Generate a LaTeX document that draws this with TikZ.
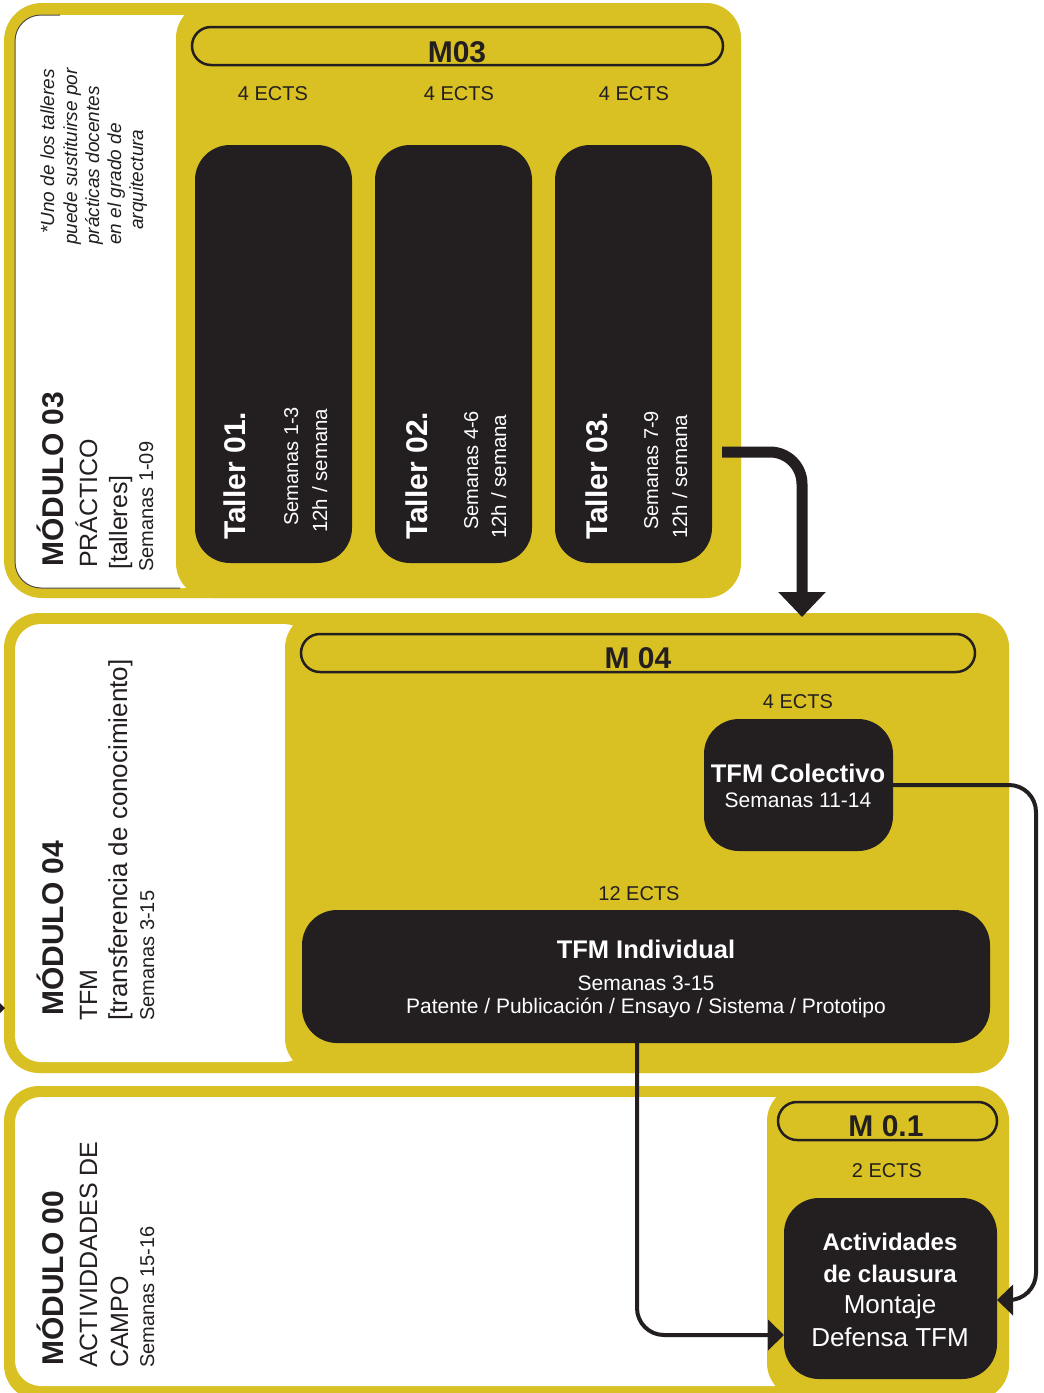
\documentclass[tikz,border=0pt]{standalone}
\usepackage{fontspec}
\setmainfont{Liberation Sans}
\usetikzlibrary{arrows.meta,calc}
\definecolor{ylw}{HTML}{DAC123}
\definecolor{drk}{HTML}{231F20}
\newcommand{\myfs}[1]{\fontsize{#1}{#1}\selectfont}
\begin{document}
\begin{tikzpicture}[x=1pt,y=-1pt,
  pill/.style={draw=drk,line width=2.5pt,rounded corners=19pt,inner sep=0pt},
  dbox/.style={fill=drk,rounded corners=35pt,inner sep=0pt,outer sep=0pt},
  tx/.style={inner sep=0pt,text=drk,anchor=base},
  wt/.style={inner sep=0pt,text=white,anchor=base},
  rl/.style={inner sep=0pt,text=drk,rotate=90,anchor=base west},
  rw/.style={inner sep=0pt,text=white,rotate=90,anchor=base west},
  bigarrow/.style={draw=drk,line width=11pt,rounded corners=32pt,-{Triangle[width=46pt,length=25pt]}},
  smallarrow/.style={draw=drk,line width=4pt,rounded corners=27pt,-{Triangle[width=30pt,length=16pt]}}
]
\useasboundingbox (0,0) rectangle (1044,1393);
\clip (0,0) rectangle (1044,1393);

% ---------- Module 03 background
\fill[ylw,rounded corners=38pt] (4,3) rectangle (741,598);
\fill[white,rounded corners=26pt] (15,15) rectangle (210,588);
\draw[drk!80,line width=1pt,rounded corners=26pt] (60,15) -- (15,15) -- (15,588) -- (180,588);
\fill[ylw,rounded corners=35pt] (176,3) rectangle (741,598);

% ---------- Module 04 background
\fill[ylw,rounded corners=35pt] (4,613) rectangle (1009,1073);
\fill[white,rounded corners=26pt] (15,624) rectangle (310,1062);
\fill[ylw,rounded corners=35pt] (285,613) rectangle (1009,1073);

% ---------- Module 00 background
\fill[ylw,rounded corners=35pt] (4,1086) rectangle (1009,1400);
\fill[white,rounded corners=26pt] (15,1097) rectangle (800,1386);
\fill[ylw,rounded corners=35pt] (767,1086) rectangle (1009,1398);

% small arrow tip at left edge
\fill[drk] (0,1003) -- (5,1008) -- (0,1013) -- cycle;

% ---------- pills
\node[pill,minimum width=531pt,minimum height=38pt] (p3) at (457.5,46) {};
\node[pill,minimum width=674pt,minimum height=38pt] (p4) at (638,653) {};
\node[pill,minimum width=219pt,minimum height=38pt] (p0) at (887.5,1121) {};
\node[tx,font=\bfseries\myfs{30}] (p3t) at (457,62) {M03};
\node[tx,font=\bfseries\myfs{30}] (p4t) at (638,668) {M 04};
\node[tx,font=\bfseries\myfs{30}] (p0t) at (886,1136) {M 0.1};

% ---------- ECTS labels
\node[tx,font=\myfs{20}] (e1) at (273,100) {4 ECTS};
\node[tx,font=\myfs{20}] (e2) at (459,100) {4 ECTS};
\node[tx,font=\myfs{20}] (e3) at (634,100) {4 ECTS};
\node[tx,font=\myfs{20}] (e4) at (798,708) {4 ECTS};
\node[tx,font=\myfs{20}] (e5) at (639,900) {12 ECTS};
\node[tx,font=\myfs{20}] (e6) at (887,1177) {2 ECTS};

% ---------- dark boxes
\node[dbox,minimum width=157pt,minimum height=418pt] (t1) at (273.5,354) {};
\node[dbox,minimum width=157pt,minimum height=418pt] (t2) at (453.5,354) {};
\node[dbox,minimum width=157pt,minimum height=418pt] (t3) at (633.5,354) {};
\node[dbox,minimum width=189pt,minimum height=132pt] (col) at (798.5,785) {};
\node[dbox,minimum width=688pt,minimum height=133pt] (ind) at (646,976.5) {};
\node[dbox,minimum width=213pt,minimum height=181pt] (act) at (890.5,1288.5) {};

% ---------- taller texts
\node[rw,font=\bfseries\myfs{30}] (t1a) at (245,540) {Taller 01.};
\node[rw,font=\myfs{20}] (t1b) at (298,526) {Semanas 1-3};
\node[rw,font=\myfs{20.5}] (t1c) at (327,533) {12h / semana};
\node[rw,font=\bfseries\myfs{30}] (t2a) at (427,540) {Taller 02.};
\node[rw,font=\myfs{20}] (t2b) at (478,530) {Semanas 4-6};
\node[rw,font=\myfs{20.5}] (t2c) at (506,539) {12h / semana};
\node[rw,font=\bfseries\myfs{30}] (t3a) at (607,540) {Taller 03.};
\node[rw,font=\myfs{20}] (t3b) at (658,530) {Semanas 7-9};
\node[rw,font=\myfs{20.5}] (t3c) at (687,539) {12h / semana};

% ---------- M04 box texts
\node[wt,font=\bfseries\myfs{25.5}] (colA) at (798,782) {TFM Colectivo};
\node[wt,font=\myfs{21}] (colB) at (798,807) {Semanas 11-14};
\node[wt,font=\bfseries\myfs{25.5}] (indA) at (646,958) {TFM Individual};
\node[wt,font=\myfs{21}] (indB) at (646,990) {Semanas 3-15};
\node[wt,font=\myfs{21}] (indC) at (646,1013) {Patente / Publicación / Ensayo / Sistema / Prototipo};

% ---------- M00 box texts
\node[wt,font=\bfseries\myfs{24}] (actA) at (890,1250) {Actividades};
\node[wt,font=\bfseries\myfs{24}] (actB) at (890,1282) {de clausura};
\node[wt,font=\myfs{26}] (actC) at (890,1313) {Montaje};
\node[wt,font=\myfs{26}] (actD) at (890,1346) {Defensa TFM};

% ---------- left labels M03
\node[rl,font=\bfseries\myfs{30}] (l3a) at (63,567) {MÓDULO 03};
\node[rl,font=\myfs{25}] (l3b) at (97,568) {PRÁCTICO};
\node[rl,font=\myfs{25}] (l3c) at (127,570) {[talleres]};
\node[rl,font=\myfs{20}] (l3d) at (153,572) {Semanas 1-09};
\node[rl,font=\itshape\myfs{19}] (n1) at (54,234) {*Uno de los talleres};
\node[rl,font=\itshape\myfs{19}] (n2) at (77,245) {puede sustituirse por};
\node[rl,font=\itshape\myfs{19}] (n3) at (99,245) {prácticas docentes};
\node[rl,font=\itshape\myfs{19}] (n4) at (121,245) {en el grado de};
\node[rl,font=\itshape\myfs{19}] (n5) at (143,230) {arquitectura};

% ---------- left labels M04
\node[rl,font=\bfseries\myfs{30}] (l4a) at (63,1016) {MÓDULO 04};
\node[rl,font=\myfs{25}] (l4b) at (97,1021) {TFM};
\node[rl,font=\myfs{26}] (l4c) at (127,1021) {[transferencia de conocimiento]};
\node[rl,font=\myfs{20}] (l4d) at (154,1021) {Semanas 3-15};

% ---------- left labels M00
\node[rl,font=\bfseries\myfs{30}] (l0a) at (63,1366) {MÓDULO 00};
\node[rl,font=\myfs{25}] (l0b) at (97,1368) {ACTIVIDDADES DE};
\node[rl,font=\myfs{25}] (l0c) at (128,1368) {CAMPO};
\node[rl,font=\myfs{20}] (l0d) at (154,1368) {Semanas 15-16};

% ---------- connectors
\coordinate (a1s) at ([xshift=10pt,yshift=-98pt]t3.east);
\coordinate (a1e) at (802,617);
\draw[bigarrow] (a1s) -| (a1e);

\coordinate (r2) at (1036,1300);
\coordinate (a2e) at ([yshift=-11.5pt]act.east);
\draw[smallarrow] (col.east) -| (r2) -- (a2e);

\coordinate (a3s) at ([xshift=-9pt]ind.south);
\coordinate (a3e) at ([yshift=-46.5pt]act.west);
\draw[smallarrow] (a3s) |- (a3e);
\end{tikzpicture}
\end{document}
